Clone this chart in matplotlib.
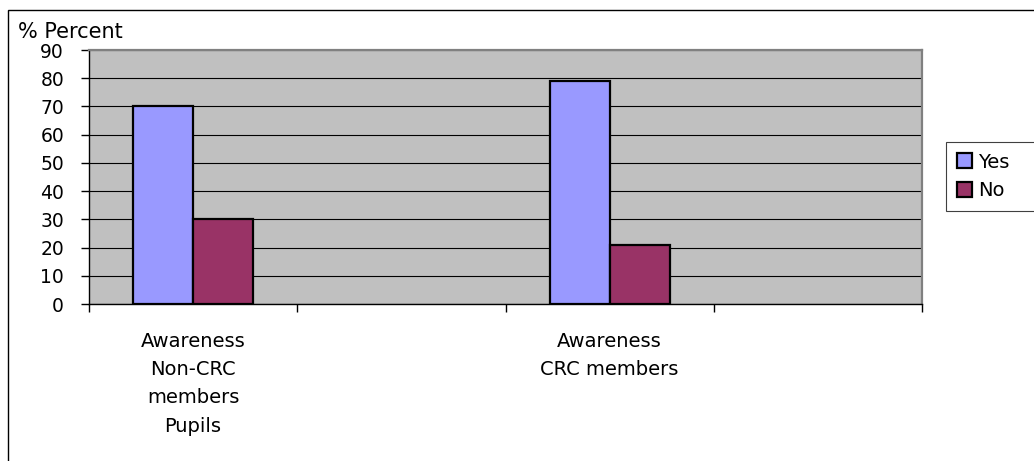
import matplotlib
matplotlib.use("Agg")
import matplotlib.pyplot as plt
from matplotlib.patches import Rectangle

# Chart data
categories = ["Awareness\nNon-CRC\nmembers\nPupils", "", "Awareness\nCRC members", ""]
yes_values = [70, None, 79, None]
no_values = [30, None, 21, None]
series_names = ["Yes", "No"]
y_ticks = [0, 10, 20, 30, 40, 50, 60, 70, 80, 90]
y_label = "% Percent"

plt.rcParams["font.family"] = ["DejaVu Sans"]

W, H, DPI = 1034, 461, 100
fig = plt.figure(figsize=(W / DPI, H / DPI), dpi=DPI)
fig.patch.set_facecolor("white")

# plot area in pixel coordinates
left, right, top, bottom = 89, 922, 50, 304
ax = fig.add_axes([left / W, 1 - bottom / H, (right - left) / W, (bottom - top) / H])
ax.set_facecolor("#C0C0C0")
ax.set_axisbelow(True)

bar_w = 60 / 208
colors = ["#9999FF", "#993366"]
for i, (yv, nv) in enumerate(zip(yes_values, no_values)):
    if yv is not None:
        ax.bar(i - bar_w / 2, yv, width=bar_w, color=colors[0], edgecolor="black",
               linewidth=1.6, zorder=3, label=series_names[0] if i == 0 else None)
    if nv is not None:
        ax.bar(i + bar_w / 2, nv, width=bar_w, color=colors[1], edgecolor="black",
               linewidth=1.6, zorder=3, label=series_names[1] if i == 0 else None)

ax.set_xlim(-0.5, len(categories) - 0.5)
ax.set_ylim(y_ticks[0], y_ticks[-1])
ax.set_yticks(y_ticks)
ax.set_yticklabels([str(t) for t in y_ticks], fontsize=13.5)
ax.yaxis.grid(True, color="black", linewidth=0.8)

# boundaries between categories carry tick marks, centres carry labels
ax.set_xticks([k - 0.5 for k in range(len(categories) + 1)])
ax.set_xticklabels([])
ax.set_xticks(range(len(categories)), minor=True)
ax.set_xticklabels(categories, minor=True, fontsize=14, linespacing=1.62)
ax.tick_params(axis="x", which="minor", length=0, pad=20)
ax.tick_params(axis="x", which="major", length=6, width=1, direction="out", color="black")
ax.tick_params(axis="y", length=6, width=1, direction="out", color="black", pad=12)

for side in ("left", "bottom"):
    ax.spines[side].set_color("black")
    ax.spines[side].set_linewidth(1.0)
for side in ("right", "top"):
    ax.spines[side].set_color("#808080")
    ax.spines[side].set_linewidth(1.6)

fig.text(18 / W, 1 - 38 / H, y_label, fontsize=15, ha="left", va="baseline")

# legend box runs past the right edge of the canvas
leg_h = 71
leg = fig.legend(loc="upper left",
                 bbox_to_anchor=(946 / W, 1 - (142 + leg_h) / H, 130 / W, leg_h / H),
                 bbox_transform=fig.transFigure, mode="expand", borderaxespad=0,
                 fontsize=14, handlelength=0.8, handleheight=0.8, handletextpad=0.3,
                 labelspacing=0.5, borderpad=0.55, fancybox=False, framealpha=1,
                 edgecolor="#404040")
leg.get_frame().set_linewidth(0.8)

# outer chart border (right and bottom edges fall outside the canvas)
fig.patches.append(Rectangle((8 / W, -0.2), 1.5, (1 - 10 / H) + 0.2,
                             transform=fig.transFigure, fill=False,
                             edgecolor="black", linewidth=1.0))

fig.savefig("out.png", dpi=DPI)
